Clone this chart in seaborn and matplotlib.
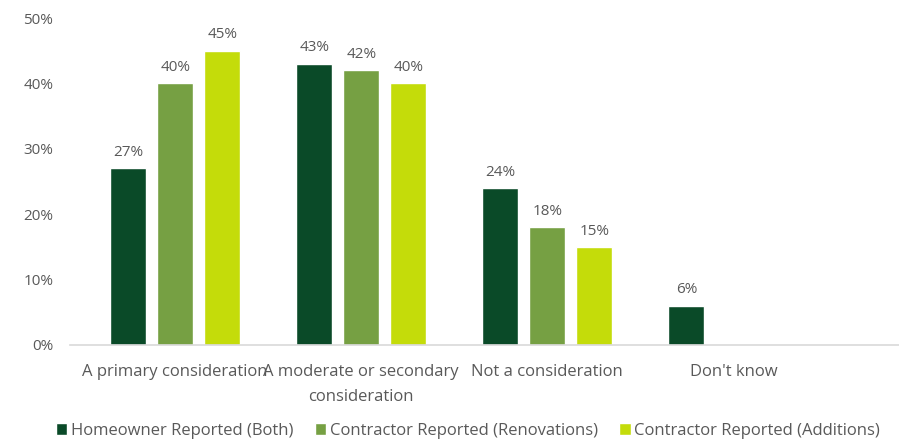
import matplotlib
matplotlib.use("Agg")
import matplotlib.pyplot as plt
import seaborn as sns
import pandas as pd
import numpy as np

categories = [
    "A primary consideration",
    "A moderate or secondary\nconsideration",
    "Not a consideration",
    "Don't know",
]
series = [
    "Homeowner Reported (Both)",
    "Contractor Reported (Renovations)",
    "Contractor Reported (Additions)",
]
homeowner = [0.27, 0.43, 0.24, 0.06]
renovations = [0.40, 0.42, 0.18, np.nan]
additions = [0.45, 0.40, 0.15, np.nan]
yticks = [0.0, 0.1, 0.2, 0.3, 0.4, 0.5]

colors = ["#0a4a28", "#76a043", "#c4dc0a"]
text_gray = "#595959"
fs = 12

rows = []
for name, vals in zip(series, [homeowner, renovations, additions]):
    for cat, v in zip(categories, vals):
        if not np.isnan(v):
            rows.append({"category": cat, "series": name, "value": v})
df = pd.DataFrame(rows)

sns.set_theme(style="white")
plt.rcParams["font.family"] = ["Open Sans", "DejaVu Sans"]

fig = plt.figure(figsize=(8.99, 4.45), dpi=100)
ax = fig.add_axes([70 / 899, (445 - 345) / 445, 1 - 70 / 899, (345 - 18) / 445])

sns.barplot(
    data=df, x="category", y="value", hue="series",
    order=categories, hue_order=series, palette=colors,
    width=0.758, gap=0.234, errorbar=None, ax=ax, saturation=1,
)

for cont in ax.containers:
    ax.bar_label(cont, labels=[f"{v * 100:.0f}%" for v in cont.datavalues],
                 padding=6, color=text_gray, fontsize=fs - 1)

ax.set_ylim(0, 0.5)
ax.set_xlim(-0.565, 3.89)
ax.set_yticks(yticks)
ax.set_yticklabels([f"{t * 100:.0f}%" for t in yticks])
ax.tick_params(axis="y", length=0, pad=12, labelcolor=text_gray, labelsize=fs - 1)
ax.tick_params(axis="x", length=0, pad=14, labelcolor=text_gray, labelsize=fs)
for lbl in ax.get_xticklabels():
    lbl.set_linespacing(1.75)
ax.set_xlabel("")
ax.set_ylabel("")
for s in ["left", "right", "top"]:
    ax.spines[s].set_visible(False)
ax.spines["bottom"].set_color("#d9d9d9")
ax.spines["bottom"].set_linewidth(1.2)

handles, labels = ax.get_legend_handles_labels()
if ax.legend_:
    ax.legend_.remove()
fig.legend(handles, labels, loc="center", bbox_to_anchor=(468 / 899, 1 - 431 / 445),
           ncol=3, frameon=False, handlelength=0.7, handleheight=0.7,
           handletextpad=0.2, columnspacing=1.3, fontsize=fs,
           labelcolor=text_gray, borderpad=0)

fig.savefig("out.png", dpi=100)
